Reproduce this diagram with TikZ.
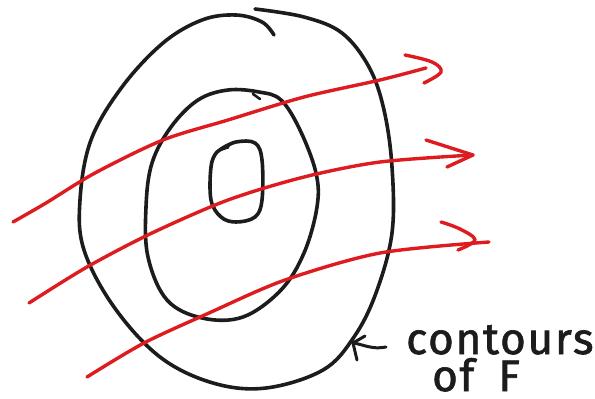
\documentclass[tikz,border=0pt]{standalone}
\usepackage{fontspec}
\setmainfont{Fira Sans}
\definecolor{ink}{RGB}{28,28,28}
\definecolor{pen}{RGB}{222,28,32}
\begin{document}
\begin{tikzpicture}[x=1pt,y=-1pt,
  contour/.style={draw=ink,line width=3.6pt,line cap=round,line join=round},
  flow/.style={draw=pen,line width=3.4pt,line cap=round,line join=round},
  label/.style={text=ink,font=\fontsize{44}{46}\selectfont\addfontfeatures{LetterSpace=4,FakeBold=1.5},inner sep=0pt}]
\useasboundingbox (0,0) rectangle (595,399);
\fill[white] (0,0) rectangle (595,399);
% outer contour
\draw[contour] plot[smooth,tension=0.6] coordinates {(255,9) (304,17) (342,33) (369,67) (384,110) (392,167) (392,233) (376,293) (354,337) (323,370) (266,388) (213,383) (160,357) (114,307) (84,250) (80,200) (91,140) (122,87) (163,43) (202,20) (236,15) (262,22) (274,35)};
% middle contour
\draw[contour] plot[smooth cycle,tension=0.6] coordinates {(228,90) (259,92) (281,100) (300,130) (316,173) (317,207) (304,253) (281,290) (243,317) (202,318) (167,300) (148,257) (146,207) (152,163) (171,127) (198,100)};
\draw[contour,line width=2.6pt] (253,94) -- (260,99);
% inner contour
\draw[contour] plot[smooth,tension=0.6] coordinates {(221,149) (236,142) (255,143) (262,160) (262,200) (255,217) (236,222) (221,217) (211,200) (211,167) (217,152) (228,147)};
% red flow lines
\draw[flow] plot[smooth,tension=0.5] coordinates {(13,222) (46,203) (95,173) (163,140) (228,120) (304,97) (380,80) (426,68)};
\draw[flow] plot[smooth,tension=0.6] coordinates {(405,55) (432,62) (441,72) (424,83)};
\draw[flow] plot[smooth,tension=0.5] coordinates {(29,303) (87,267) (152,233) (228,200) (304,177) (380,162) (473,155)};
\draw[flow] (426,140) -- (473,155) -- (447,167);
\draw[flow] plot[smooth,tension=0.5] coordinates {(87,377) (144,343) (209,313) (285,280) (380,253) (489,242)};
\draw[flow] plot[smooth,tension=0.6] coordinates {(441,222) (460,229) (475,240) (458,250)};
% label arrow
\coordinate (tail) at (386,347);
\coordinate (tip) at (353,343);
\draw[contour,line width=3pt] (tail) .. controls (372,350) and (362,344) .. (tip);
\draw[contour,line width=3pt] (365,336) -- (tip) -- (357,360);
\node[label,anchor=base west] (lbl1) at (406,354) {contours};
\node[label,anchor=base west] (lbl2) at (432,391) {of\hspace{24pt}F};
\end{tikzpicture}
\end{document}
